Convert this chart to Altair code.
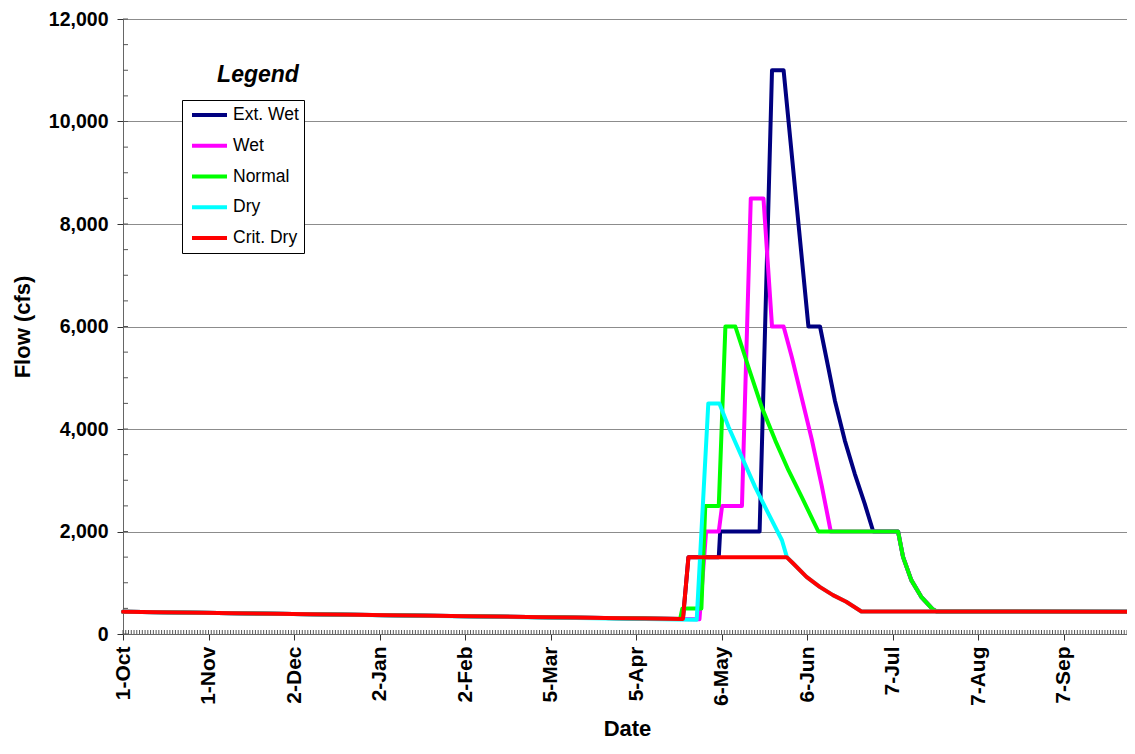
import altair as alt
import pandas as pd

# ---------------- data ----------------
SERIES = ["Ext. Wet", "Wet", "Normal", "Dry", "Crit. Dry"]
COLORS = ["#000080", "#FF00FF", "#00FF00", "#00FFFF", "#FF0000"]

# day index counted from 1-Oct (0 .. 364)
ext_wet_day = [0, 203, 205, 216, 216.5, 230.8, 235.3, 239.5, 248.5, 252.7, 255.7, 258.1,
               261.7, 265.3, 268.9, 272, 281, 282.8, 285.8, 289.4, 293.6, 295, 364]
ext_wet_flow = [435, 295, 1500, 1500, 2000, 2000, 11000, 11000, 6000, 6000, 5200, 4553,
                3774, 3126, 2543, 2000, 2000, 1504, 1051, 726, 481, 440, 435]

wet_day = [0, 209, 211.4, 216, 217.2, 224.4, 227.6, 232.2, 235.3, 239.5, 242.5, 246.1,
           249.7, 253.3, 256.6, 281, 282.8, 285.8, 289.4, 293.6, 295, 364]
wet_flow = [435, 290, 2000, 2000, 2500, 2500, 8500, 8500, 6000, 6000, 5400, 4600,
            3800, 2900, 2000, 2000, 1504, 1051, 726, 481, 440, 435]

normal_day = [0, 202, 202.8, 209.7, 211.1, 216, 218.4, 222.0, 226.8, 231.6, 236.5, 241.3,
              246.1, 252.1, 281.0, 282.8, 285.8, 289.4, 293.6, 295, 364]
normal_flow = [435, 295, 500, 500, 2500, 2500, 6000, 6000, 5200, 4422, 3774, 3191,
               2671, 2000, 2000, 1504, 1051, 726, 481, 440, 435]

dry_day = [0, 208, 212.2, 216.2, 219.6, 224.4, 229.2, 234.0, 238.9, 240.7, 243, 247.8,
           252.6, 257.4, 262.2, 267.7, 364]
dry_flow = [435, 280, 4500, 4500, 4033, 3449, 2866, 2348, 1829, 1500, 1375, 1115,
            920, 759, 629, 440, 435]

crit_dry_day = [0, 203, 205, 240.6, 243, 247.8, 252.6, 257.4, 262.2, 267.7, 364]
crit_dry_flow = [435, 295, 1500, 1500, 1375, 1115, 920, 759, 629, 440, 435]

tick_days = [0, 31, 62, 93, 124, 155, 186, 217, 248, 279, 310, 341]
tick_labels = ["1-Oct", "1-Nov", "2-Dec", "2-Jan", "2-Feb", "5-Mar", "5-Apr",
               "6-May", "6-Jun", "7-Jul", "7-Aug", "7-Sep"]
y_ticks = [0, 2000, 4000, 6000, 8000, 10000, 12000]
y_minor = list(range(0, 12001, 500))
x_minor = list(range(0, 365))

# ---------------- build table ----------------
rows = []
for name, days, flows in [
    ("Ext. Wet", ext_wet_day, ext_wet_flow),
    ("Wet", wet_day, wet_flow),
    ("Normal", normal_day, normal_flow),
    ("Dry", dry_day, dry_flow),
    ("Crit. Dry", crit_dry_day, crit_dry_flow),
]:
    for i, (d, f) in enumerate(zip(days, flows)):
        rows.append({"series": name, "day": d, "flow": f, "i": i})
df = pd.DataFrame(rows)

W, H = 1004, 615
LEFT, TOP = 115, 11
FONT = "Liberation Sans"

label_expr = "[" + ",".join("'%s'" % t for t in tick_labels) + "][indexof([" + \
    ",".join(str(t) for t in tick_days) + "], datum.value)]"

x_axis = alt.Axis(values=tick_days, labelExpr=label_expr, labelAngle=270,
                  labelAlign="right", labelBaseline="middle", labelFont=FONT,
                  labelFontSize=21, labelFontWeight="bold", labelColor="black",
                  labelPadding=6, labelOverlap=False, labelFlush=False,
                  tickSize=6, tickColor="#333333", domainColor="#666666",
                  grid=False, title="Date", titleFont=FONT, titleFontSize=22,
                  titleFontWeight="bold", titleColor="black", titleX=W / 2 + 2,
                  titleY=94, titleAlign="center", titleBaseline="middle")
y_axis = alt.Axis(values=y_ticks, format=",.0f", labelFont=FONT, labelFontSize=19.5,
                  labelFontWeight="bold", labelColor="black", labelPadding=9,
                  labelOverlap=False, labelFlush=False, tickSize=6,
                  tickColor="#333333", domainColor="#666666", grid=True,
                  gridColor="#8c8c8c", gridWidth=1, title="Flow (cfs)",
                  titleFont=FONT, titleFontSize=22, titleFontWeight="bold",
                  titleColor="black", titleAngle=270, titleX=-(8 + LEFT) + 22,
                  titleY=H / 2, titleAlign="center", titleBaseline="middle")

x_scale = alt.Scale(domain=[0, 364], nice=False, zero=False)
y_scale = alt.Scale(domain=[0, 12000], nice=False)

color = alt.Color("series:N", scale=alt.Scale(domain=SERIES, range=COLORS),
                  legend=alt.Legend(orient="none", legendX=182 - 8 - LEFT,
                                    legendY=100 - 8 - TOP, title=None,
                                    strokeColor="black", fillColor="white",
                                    padding=5, symbolType="stroke", symbolStrokeWidth=4,
                                    symbolSize=1225, symbolOffset=3, labelFont=FONT,
                                    labelFontSize=17.5, labelColor="black", labelOffset=4,
                                    rowPadding=10.75, clipHeight=20, labelLimit=200))

layers = []
# minor ticks (inside the plot)
layers.append(alt.Chart(pd.DataFrame({"day": x_minor})).mark_rule(
    color="#555555", strokeWidth=1).encode(
    x=alt.X("day:Q", scale=x_scale, axis=x_axis),
    y=alt.value(H), y2=alt.value(H - 4)))
layers.append(alt.Chart(pd.DataFrame({"flow": y_minor})).mark_rule(
    color="#555555", strokeWidth=1).encode(
    y=alt.Y("flow:Q", scale=y_scale, axis=y_axis),
    x=alt.value(0), x2=alt.value(5)))

for s in SERIES:
    layers.append(
        alt.Chart(df).transform_filter(alt.datum.series == s)
        .mark_line(strokeWidth=4, strokeJoin="round", strokeCap="round")
        .encode(x=alt.X("day:Q", scale=x_scale, axis=x_axis),
                y=alt.Y("flow:Q", scale=y_scale, axis=y_axis),
                color=color, order=alt.Order("i:Q"))
    )

layers.append(alt.Chart(pd.DataFrame({"t": ["Legend"]})).mark_text(
    font=FONT, fontSize=23, fontWeight="bold", fontStyle="italic", color="black",
    align="center", baseline="alphabetic").encode(
    text="t:N", x=alt.value(258 - 8 - LEFT), y=alt.value(82 - 8 - TOP)))

chart = alt.layer(*layers).properties(
    width=W, height=H,
    autosize=alt.AutoSizeParams(type="none"),
    padding={"left": LEFT, "top": TOP, "right": 0, "bottom": 106},
).configure_view(stroke="#8c8c8c", strokeWidth=1)

chart.save("out.html", embed_options={"renderer": "svg", "actions": False})
